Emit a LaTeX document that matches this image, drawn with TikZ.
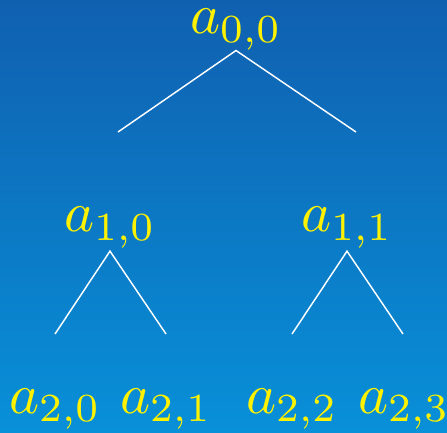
\documentclass[tikz,border=0pt]{standalone}
\usepackage{tikz}

\begin{document}
\begin{tikzpicture}[x=0.0265cm,y=-0.0265cm,
  lbl/.style={text=yellow,anchor=base,inner sep=0.3pt,scale=4.3,transform shape},
  branch/.style={draw=white,line width=1.1pt}]
\shade[top color={rgb,255:red,16;green,96;blue,176},bottom color={rgb,255:red,8;green,144;blue,216}] (0,0) rectangle (447,433);
\useasboundingbox (0,0) rectangle (447,433);
\node[lbl] (a00) at (236,34) {$a_{0,0}$};
\node[lbl] (a10) at (110,232) {$a_{1,0}$};
\node[lbl] (a11) at (347,232) {$a_{1,1}$};
\node[lbl] (a20) at (55,413) {$a_{2,0}$};
\node[lbl] (a21) at (166,413) {$a_{2,1}$};
\node[lbl] (a22) at (292,413) {$a_{2,2}$};
\node[lbl] (a23) at (404,413) {$a_{2,3}$};
\coordinate (e10) at (118,132);
\coordinate (e11) at (356,132);
\coordinate (e20) at (55,334);
\coordinate (e21) at (166,334);
\coordinate (e22) at (292,334);
\coordinate (e23) at (403,334);
\draw[branch] (e10)--([yshift=2pt]a00.south)--(e11);
\draw[branch] (e20)--(a10.south)--(e21);
\draw[branch] (e22)--(a11.south)--(e23);
\end{tikzpicture}
\end{document}
